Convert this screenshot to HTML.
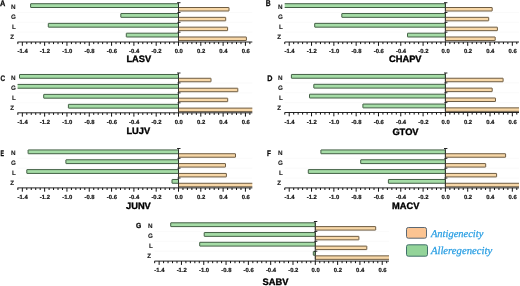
<!DOCTYPE html>
<html lang="en">
<head>
<meta charset="utf-8">
<title>Antigenicity and allergenicity of arenavirus proteins</title>
<style>
html,body{margin:0;padding:0;background:#ffffff;}
body{width:520px;height:286px;overflow:hidden;}
svg{display:block;will-change:transform;text-rendering:geometricPrecision;}
.lab{font-family:"Liberation Sans",sans-serif;font-weight:bold;font-size:6.3px;fill:#222;stroke:#222;stroke-width:0.12px;}
.tick{font-family:"Liberation Sans",sans-serif;font-weight:bold;font-size:5.9px;fill:#151515;stroke:#151515;stroke-width:0.2px;text-anchor:middle;}
.title{font-family:"Liberation Sans",sans-serif;font-weight:bold;font-size:9.3px;fill:#000;stroke:#000;stroke-width:0.35px;}
.letter{font-family:"Liberation Sans",sans-serif;font-weight:bold;font-size:8px;fill:#0a0a0a;stroke:#0a0a0a;stroke-width:0.28px;}
.leg{font-family:"Liberation Serif",serif;font-style:italic;font-size:10.5px;fill:#2b9fe3;stroke:#2b9fe3;stroke-width:0.25px;}
</style>
</head>
<body>
<svg width="520" height="286" viewBox="0 0 520 286">
<rect x="0" y="0" width="520" height="286" fill="#ffffff"/>

<g>
<line x1="17.5" y1="12.52" x2="252.3" y2="12.52" stroke="#f6f6f6" stroke-width="0.6"/>
<line x1="17.5" y1="22.35" x2="252.3" y2="22.35" stroke="#f6f6f6" stroke-width="0.6"/>
<line x1="17.5" y1="32.17" x2="252.3" y2="32.17" stroke="#f6f6f6" stroke-width="0.6"/>
<rect x="30.60" y="3.71" width="147.90" height="3.80" rx="0.25" fill="#a5dca6" stroke="#436045" stroke-width="1.0"/>
<rect x="178.50" y="7.51" width="50.50" height="3.50" rx="0.25" fill="#f7d7a7" stroke="#6e5c42" stroke-width="1.0"/>
<rect x="120.80" y="13.54" width="57.70" height="3.80" rx="0.25" fill="#a5dca6" stroke="#436045" stroke-width="1.0"/>
<rect x="178.50" y="17.34" width="47.20" height="3.50" rx="0.25" fill="#f7d7a7" stroke="#6e5c42" stroke-width="1.0"/>
<rect x="48.30" y="23.36" width="130.20" height="3.80" rx="0.25" fill="#a5dca6" stroke="#436045" stroke-width="1.0"/>
<rect x="178.50" y="27.16" width="49.10" height="3.50" rx="0.25" fill="#f7d7a7" stroke="#6e5c42" stroke-width="1.0"/>
<rect x="126.30" y="33.19" width="52.20" height="3.80" rx="0.25" fill="#a5dca6" stroke="#436045" stroke-width="1.0"/>
<rect x="178.50" y="36.99" width="67.90" height="3.50" rx="0.25" fill="#f7d7a7" stroke="#6e5c42" stroke-width="1.0"/>
<line x1="178.50" y1="2.70" x2="178.50" y2="42.00" stroke="#262626" stroke-width="0.8"/>
<line x1="177.10" y1="2.70" x2="180.50" y2="2.70" stroke="#1a1a1a" stroke-width="0.95"/>
<line x1="177.50" y1="12.52" x2="180.50" y2="12.52" stroke="#1a1a1a" stroke-width="0.95"/>
<line x1="177.50" y1="22.35" x2="180.50" y2="22.35" stroke="#1a1a1a" stroke-width="0.95"/>
<line x1="177.50" y1="32.17" x2="180.50" y2="32.17" stroke="#1a1a1a" stroke-width="0.95"/>
<line x1="17.50" y1="42.00" x2="252.30" y2="42.00" stroke="#1a1a1a" stroke-width="0.95"/>
<line x1="17.87" y1="42.00" x2="17.87" y2="44.10" stroke="#111" stroke-width="1.0"/>
<line x1="22.33" y1="42.00" x2="22.33" y2="45.80" stroke="#111" stroke-width="1.0"/>
<text class="tick" x="22.63" y="53.20">-1.4</text>
<line x1="26.79" y1="42.00" x2="26.79" y2="44.10" stroke="#111" stroke-width="1.0"/>
<line x1="31.25" y1="42.00" x2="31.25" y2="44.10" stroke="#111" stroke-width="1.0"/>
<line x1="35.72" y1="42.00" x2="35.72" y2="44.10" stroke="#111" stroke-width="1.0"/>
<line x1="40.18" y1="42.00" x2="40.18" y2="44.10" stroke="#111" stroke-width="1.0"/>
<line x1="44.64" y1="42.00" x2="44.64" y2="45.80" stroke="#111" stroke-width="1.0"/>
<text class="tick" x="44.94" y="53.20">-1.2</text>
<line x1="49.10" y1="42.00" x2="49.10" y2="44.10" stroke="#111" stroke-width="1.0"/>
<line x1="53.56" y1="42.00" x2="53.56" y2="44.10" stroke="#111" stroke-width="1.0"/>
<line x1="58.03" y1="42.00" x2="58.03" y2="44.10" stroke="#111" stroke-width="1.0"/>
<line x1="62.49" y1="42.00" x2="62.49" y2="44.10" stroke="#111" stroke-width="1.0"/>
<line x1="66.95" y1="42.00" x2="66.95" y2="45.80" stroke="#111" stroke-width="1.0"/>
<text class="tick" x="67.25" y="53.20">-1.0</text>
<line x1="71.41" y1="42.00" x2="71.41" y2="44.10" stroke="#111" stroke-width="1.0"/>
<line x1="75.87" y1="42.00" x2="75.87" y2="44.10" stroke="#111" stroke-width="1.0"/>
<line x1="80.34" y1="42.00" x2="80.34" y2="44.10" stroke="#111" stroke-width="1.0"/>
<line x1="84.80" y1="42.00" x2="84.80" y2="44.10" stroke="#111" stroke-width="1.0"/>
<line x1="89.26" y1="42.00" x2="89.26" y2="45.80" stroke="#111" stroke-width="1.0"/>
<text class="tick" x="89.56" y="53.20">-0.8</text>
<line x1="93.72" y1="42.00" x2="93.72" y2="44.10" stroke="#111" stroke-width="1.0"/>
<line x1="98.18" y1="42.00" x2="98.18" y2="44.10" stroke="#111" stroke-width="1.0"/>
<line x1="102.65" y1="42.00" x2="102.65" y2="44.10" stroke="#111" stroke-width="1.0"/>
<line x1="107.11" y1="42.00" x2="107.11" y2="44.10" stroke="#111" stroke-width="1.0"/>
<line x1="111.57" y1="42.00" x2="111.57" y2="45.80" stroke="#111" stroke-width="1.0"/>
<text class="tick" x="111.87" y="53.20">-0.6</text>
<line x1="116.03" y1="42.00" x2="116.03" y2="44.10" stroke="#111" stroke-width="1.0"/>
<line x1="120.49" y1="42.00" x2="120.49" y2="44.10" stroke="#111" stroke-width="1.0"/>
<line x1="124.96" y1="42.00" x2="124.96" y2="44.10" stroke="#111" stroke-width="1.0"/>
<line x1="129.42" y1="42.00" x2="129.42" y2="44.10" stroke="#111" stroke-width="1.0"/>
<line x1="133.88" y1="42.00" x2="133.88" y2="45.80" stroke="#111" stroke-width="1.0"/>
<text class="tick" x="134.18" y="53.20">-0.4</text>
<line x1="138.34" y1="42.00" x2="138.34" y2="44.10" stroke="#111" stroke-width="1.0"/>
<line x1="142.80" y1="42.00" x2="142.80" y2="44.10" stroke="#111" stroke-width="1.0"/>
<line x1="147.27" y1="42.00" x2="147.27" y2="44.10" stroke="#111" stroke-width="1.0"/>
<line x1="151.73" y1="42.00" x2="151.73" y2="44.10" stroke="#111" stroke-width="1.0"/>
<line x1="156.19" y1="42.00" x2="156.19" y2="45.80" stroke="#111" stroke-width="1.0"/>
<text class="tick" x="156.49" y="53.20">-0.2</text>
<line x1="160.65" y1="42.00" x2="160.65" y2="44.10" stroke="#111" stroke-width="1.0"/>
<line x1="165.11" y1="42.00" x2="165.11" y2="44.10" stroke="#111" stroke-width="1.0"/>
<line x1="169.58" y1="42.00" x2="169.58" y2="44.10" stroke="#111" stroke-width="1.0"/>
<line x1="174.04" y1="42.00" x2="174.04" y2="44.10" stroke="#111" stroke-width="1.0"/>
<line x1="178.50" y1="42.00" x2="178.50" y2="45.80" stroke="#111" stroke-width="1.0"/>
<text class="tick" x="178.80" y="53.20">0.0</text>
<line x1="182.96" y1="42.00" x2="182.96" y2="44.10" stroke="#111" stroke-width="1.0"/>
<line x1="187.42" y1="42.00" x2="187.42" y2="44.10" stroke="#111" stroke-width="1.0"/>
<line x1="191.89" y1="42.00" x2="191.89" y2="44.10" stroke="#111" stroke-width="1.0"/>
<line x1="196.35" y1="42.00" x2="196.35" y2="44.10" stroke="#111" stroke-width="1.0"/>
<line x1="200.81" y1="42.00" x2="200.81" y2="45.80" stroke="#111" stroke-width="1.0"/>
<text class="tick" x="201.11" y="53.20">0.2</text>
<line x1="205.27" y1="42.00" x2="205.27" y2="44.10" stroke="#111" stroke-width="1.0"/>
<line x1="209.73" y1="42.00" x2="209.73" y2="44.10" stroke="#111" stroke-width="1.0"/>
<line x1="214.20" y1="42.00" x2="214.20" y2="44.10" stroke="#111" stroke-width="1.0"/>
<line x1="218.66" y1="42.00" x2="218.66" y2="44.10" stroke="#111" stroke-width="1.0"/>
<line x1="223.12" y1="42.00" x2="223.12" y2="45.80" stroke="#111" stroke-width="1.0"/>
<text class="tick" x="223.42" y="53.20">0.4</text>
<line x1="227.58" y1="42.00" x2="227.58" y2="44.10" stroke="#111" stroke-width="1.0"/>
<line x1="232.04" y1="42.00" x2="232.04" y2="44.10" stroke="#111" stroke-width="1.0"/>
<line x1="236.51" y1="42.00" x2="236.51" y2="44.10" stroke="#111" stroke-width="1.0"/>
<line x1="240.97" y1="42.00" x2="240.97" y2="44.10" stroke="#111" stroke-width="1.0"/>
<line x1="245.43" y1="42.00" x2="245.43" y2="45.80" stroke="#111" stroke-width="1.0"/>
<text class="tick" x="245.73" y="53.20">0.6</text>
<line x1="249.89" y1="42.00" x2="249.89" y2="44.10" stroke="#111" stroke-width="1.0"/>
<text class="lab" x="11.00" y="9.40">N</text>
<text class="lab" x="11.00" y="19.20">G</text>
<text class="lab" x="12.00" y="29.30">L</text>
<text class="lab" x="10.30" y="39.00">Z</text>
<text class="letter" style="font-size:8px" x="0.10" y="5.70" textLength="5.3" lengthAdjust="spacingAndGlyphs">A</text>
<text class="title" x="126.40" y="62.30">LASV</text>
</g>
<g>
<line x1="284.7" y1="12.52" x2="519.0" y2="12.52" stroke="#f6f6f6" stroke-width="0.6"/>
<line x1="284.7" y1="22.35" x2="519.0" y2="22.35" stroke="#f6f6f6" stroke-width="0.6"/>
<line x1="284.7" y1="32.17" x2="519.0" y2="32.17" stroke="#f6f6f6" stroke-width="0.6"/>
<path d="M284.70 3.71H445.40V7.51H284.70" fill="#a5dca6" stroke="#436045" stroke-width="1.0"/>
<rect x="445.40" y="7.51" width="46.80" height="3.50" rx="0.25" fill="#f7d7a7" stroke="#6e5c42" stroke-width="1.0"/>
<rect x="341.80" y="13.54" width="103.60" height="3.80" rx="0.25" fill="#a5dca6" stroke="#436045" stroke-width="1.0"/>
<rect x="445.40" y="17.34" width="43.30" height="3.50" rx="0.25" fill="#f7d7a7" stroke="#6e5c42" stroke-width="1.0"/>
<rect x="314.70" y="23.36" width="130.70" height="3.80" rx="0.25" fill="#a5dca6" stroke="#436045" stroke-width="1.0"/>
<rect x="445.40" y="27.16" width="52.00" height="3.50" rx="0.25" fill="#f7d7a7" stroke="#6e5c42" stroke-width="1.0"/>
<rect x="407.50" y="33.19" width="37.90" height="3.80" rx="0.25" fill="#a5dca6" stroke="#436045" stroke-width="1.0"/>
<rect x="445.40" y="36.99" width="49.80" height="3.50" rx="0.25" fill="#f7d7a7" stroke="#6e5c42" stroke-width="1.0"/>
<line x1="445.40" y1="2.70" x2="445.40" y2="42.00" stroke="#262626" stroke-width="0.8"/>
<line x1="444.00" y1="2.70" x2="447.40" y2="2.70" stroke="#1a1a1a" stroke-width="0.95"/>
<line x1="444.40" y1="12.52" x2="447.40" y2="12.52" stroke="#1a1a1a" stroke-width="0.95"/>
<line x1="444.40" y1="22.35" x2="447.40" y2="22.35" stroke="#1a1a1a" stroke-width="0.95"/>
<line x1="444.40" y1="32.17" x2="447.40" y2="32.17" stroke="#1a1a1a" stroke-width="0.95"/>
<line x1="284.70" y1="42.00" x2="519.00" y2="42.00" stroke="#1a1a1a" stroke-width="0.95"/>
<line x1="284.77" y1="42.00" x2="284.77" y2="44.10" stroke="#111" stroke-width="1.0"/>
<line x1="289.23" y1="42.00" x2="289.23" y2="45.80" stroke="#111" stroke-width="1.0"/>
<text class="tick" x="289.53" y="53.20">-1.4</text>
<line x1="293.69" y1="42.00" x2="293.69" y2="44.10" stroke="#111" stroke-width="1.0"/>
<line x1="298.15" y1="42.00" x2="298.15" y2="44.10" stroke="#111" stroke-width="1.0"/>
<line x1="302.62" y1="42.00" x2="302.62" y2="44.10" stroke="#111" stroke-width="1.0"/>
<line x1="307.08" y1="42.00" x2="307.08" y2="44.10" stroke="#111" stroke-width="1.0"/>
<line x1="311.54" y1="42.00" x2="311.54" y2="45.80" stroke="#111" stroke-width="1.0"/>
<text class="tick" x="311.84" y="53.20">-1.2</text>
<line x1="316.00" y1="42.00" x2="316.00" y2="44.10" stroke="#111" stroke-width="1.0"/>
<line x1="320.46" y1="42.00" x2="320.46" y2="44.10" stroke="#111" stroke-width="1.0"/>
<line x1="324.93" y1="42.00" x2="324.93" y2="44.10" stroke="#111" stroke-width="1.0"/>
<line x1="329.39" y1="42.00" x2="329.39" y2="44.10" stroke="#111" stroke-width="1.0"/>
<line x1="333.85" y1="42.00" x2="333.85" y2="45.80" stroke="#111" stroke-width="1.0"/>
<text class="tick" x="334.15" y="53.20">-1.0</text>
<line x1="338.31" y1="42.00" x2="338.31" y2="44.10" stroke="#111" stroke-width="1.0"/>
<line x1="342.77" y1="42.00" x2="342.77" y2="44.10" stroke="#111" stroke-width="1.0"/>
<line x1="347.24" y1="42.00" x2="347.24" y2="44.10" stroke="#111" stroke-width="1.0"/>
<line x1="351.70" y1="42.00" x2="351.70" y2="44.10" stroke="#111" stroke-width="1.0"/>
<line x1="356.16" y1="42.00" x2="356.16" y2="45.80" stroke="#111" stroke-width="1.0"/>
<text class="tick" x="356.46" y="53.20">-0.8</text>
<line x1="360.62" y1="42.00" x2="360.62" y2="44.10" stroke="#111" stroke-width="1.0"/>
<line x1="365.08" y1="42.00" x2="365.08" y2="44.10" stroke="#111" stroke-width="1.0"/>
<line x1="369.55" y1="42.00" x2="369.55" y2="44.10" stroke="#111" stroke-width="1.0"/>
<line x1="374.01" y1="42.00" x2="374.01" y2="44.10" stroke="#111" stroke-width="1.0"/>
<line x1="378.47" y1="42.00" x2="378.47" y2="45.80" stroke="#111" stroke-width="1.0"/>
<text class="tick" x="378.77" y="53.20">-0.6</text>
<line x1="382.93" y1="42.00" x2="382.93" y2="44.10" stroke="#111" stroke-width="1.0"/>
<line x1="387.39" y1="42.00" x2="387.39" y2="44.10" stroke="#111" stroke-width="1.0"/>
<line x1="391.86" y1="42.00" x2="391.86" y2="44.10" stroke="#111" stroke-width="1.0"/>
<line x1="396.32" y1="42.00" x2="396.32" y2="44.10" stroke="#111" stroke-width="1.0"/>
<line x1="400.78" y1="42.00" x2="400.78" y2="45.80" stroke="#111" stroke-width="1.0"/>
<text class="tick" x="401.08" y="53.20">-0.4</text>
<line x1="405.24" y1="42.00" x2="405.24" y2="44.10" stroke="#111" stroke-width="1.0"/>
<line x1="409.70" y1="42.00" x2="409.70" y2="44.10" stroke="#111" stroke-width="1.0"/>
<line x1="414.17" y1="42.00" x2="414.17" y2="44.10" stroke="#111" stroke-width="1.0"/>
<line x1="418.63" y1="42.00" x2="418.63" y2="44.10" stroke="#111" stroke-width="1.0"/>
<line x1="423.09" y1="42.00" x2="423.09" y2="45.80" stroke="#111" stroke-width="1.0"/>
<text class="tick" x="423.39" y="53.20">-0.2</text>
<line x1="427.55" y1="42.00" x2="427.55" y2="44.10" stroke="#111" stroke-width="1.0"/>
<line x1="432.01" y1="42.00" x2="432.01" y2="44.10" stroke="#111" stroke-width="1.0"/>
<line x1="436.48" y1="42.00" x2="436.48" y2="44.10" stroke="#111" stroke-width="1.0"/>
<line x1="440.94" y1="42.00" x2="440.94" y2="44.10" stroke="#111" stroke-width="1.0"/>
<line x1="445.40" y1="42.00" x2="445.40" y2="45.80" stroke="#111" stroke-width="1.0"/>
<text class="tick" x="445.70" y="53.20">0.0</text>
<line x1="449.86" y1="42.00" x2="449.86" y2="44.10" stroke="#111" stroke-width="1.0"/>
<line x1="454.32" y1="42.00" x2="454.32" y2="44.10" stroke="#111" stroke-width="1.0"/>
<line x1="458.79" y1="42.00" x2="458.79" y2="44.10" stroke="#111" stroke-width="1.0"/>
<line x1="463.25" y1="42.00" x2="463.25" y2="44.10" stroke="#111" stroke-width="1.0"/>
<line x1="467.71" y1="42.00" x2="467.71" y2="45.80" stroke="#111" stroke-width="1.0"/>
<text class="tick" x="468.01" y="53.20">0.2</text>
<line x1="472.17" y1="42.00" x2="472.17" y2="44.10" stroke="#111" stroke-width="1.0"/>
<line x1="476.63" y1="42.00" x2="476.63" y2="44.10" stroke="#111" stroke-width="1.0"/>
<line x1="481.10" y1="42.00" x2="481.10" y2="44.10" stroke="#111" stroke-width="1.0"/>
<line x1="485.56" y1="42.00" x2="485.56" y2="44.10" stroke="#111" stroke-width="1.0"/>
<line x1="490.02" y1="42.00" x2="490.02" y2="45.80" stroke="#111" stroke-width="1.0"/>
<text class="tick" x="490.32" y="53.20">0.4</text>
<line x1="494.48" y1="42.00" x2="494.48" y2="44.10" stroke="#111" stroke-width="1.0"/>
<line x1="498.94" y1="42.00" x2="498.94" y2="44.10" stroke="#111" stroke-width="1.0"/>
<line x1="503.41" y1="42.00" x2="503.41" y2="44.10" stroke="#111" stroke-width="1.0"/>
<line x1="507.87" y1="42.00" x2="507.87" y2="44.10" stroke="#111" stroke-width="1.0"/>
<line x1="512.33" y1="42.00" x2="512.33" y2="45.80" stroke="#111" stroke-width="1.0"/>
<text class="tick" x="512.63" y="53.20">0.6</text>
<line x1="516.79" y1="42.00" x2="516.79" y2="44.10" stroke="#111" stroke-width="1.0"/>
<text class="lab" x="278.00" y="9.40">N</text>
<text class="lab" x="278.00" y="19.20">G</text>
<text class="lab" x="279.00" y="29.30">L</text>
<text class="lab" x="277.30" y="39.00">Z</text>
<text class="letter" style="font-size:8.5px" x="265.80" y="5.60" textLength="4.9" lengthAdjust="spacingAndGlyphs">B</text>
<text class="title" x="389.00" y="62.30">CHAPV</text>
</g>
<g>
<line x1="17.5" y1="82.95" x2="252.3" y2="82.95" stroke="#f6f6f6" stroke-width="0.6"/>
<line x1="17.5" y1="92.90" x2="252.3" y2="92.90" stroke="#f6f6f6" stroke-width="0.6"/>
<line x1="17.5" y1="102.85" x2="252.3" y2="102.85" stroke="#f6f6f6" stroke-width="0.6"/>
<rect x="19.50" y="74.48" width="159.00" height="3.80" rx="0.25" fill="#a5dca6" stroke="#436045" stroke-width="1.0"/>
<rect x="178.50" y="78.28" width="32.50" height="3.50" rx="0.25" fill="#f7d7a7" stroke="#6e5c42" stroke-width="1.0"/>
<path d="M17.60 84.43H178.50V88.23H17.60" fill="#a5dca6" stroke="#436045" stroke-width="1.0"/>
<rect x="178.50" y="88.23" width="59.30" height="3.50" rx="0.25" fill="#f7d7a7" stroke="#6e5c42" stroke-width="1.0"/>
<rect x="43.70" y="94.38" width="134.80" height="3.80" rx="0.25" fill="#a5dca6" stroke="#436045" stroke-width="1.0"/>
<rect x="178.50" y="98.18" width="49.20" height="3.50" rx="0.25" fill="#f7d7a7" stroke="#6e5c42" stroke-width="1.0"/>
<rect x="68.40" y="104.33" width="110.10" height="3.80" rx="0.25" fill="#a5dca6" stroke="#436045" stroke-width="1.0"/>
<path d="M252.30 108.12H178.50V111.62H252.30" fill="#f7d7a7" stroke="#6e5c42" stroke-width="1.0"/>
<line x1="178.50" y1="73.00" x2="178.50" y2="112.80" stroke="#262626" stroke-width="0.8"/>
<line x1="177.10" y1="73.00" x2="180.50" y2="73.00" stroke="#1a1a1a" stroke-width="0.95"/>
<line x1="177.50" y1="82.95" x2="180.50" y2="82.95" stroke="#1a1a1a" stroke-width="0.95"/>
<line x1="177.50" y1="92.90" x2="180.50" y2="92.90" stroke="#1a1a1a" stroke-width="0.95"/>
<line x1="177.50" y1="102.85" x2="180.50" y2="102.85" stroke="#1a1a1a" stroke-width="0.95"/>
<line x1="17.50" y1="112.80" x2="252.30" y2="112.80" stroke="#1a1a1a" stroke-width="0.95"/>
<line x1="17.87" y1="112.80" x2="17.87" y2="114.90" stroke="#111" stroke-width="1.0"/>
<line x1="22.33" y1="112.80" x2="22.33" y2="116.60" stroke="#111" stroke-width="1.0"/>
<text class="tick" x="22.63" y="124.00">-1.4</text>
<line x1="26.79" y1="112.80" x2="26.79" y2="114.90" stroke="#111" stroke-width="1.0"/>
<line x1="31.25" y1="112.80" x2="31.25" y2="114.90" stroke="#111" stroke-width="1.0"/>
<line x1="35.72" y1="112.80" x2="35.72" y2="114.90" stroke="#111" stroke-width="1.0"/>
<line x1="40.18" y1="112.80" x2="40.18" y2="114.90" stroke="#111" stroke-width="1.0"/>
<line x1="44.64" y1="112.80" x2="44.64" y2="116.60" stroke="#111" stroke-width="1.0"/>
<text class="tick" x="44.94" y="124.00">-1.2</text>
<line x1="49.10" y1="112.80" x2="49.10" y2="114.90" stroke="#111" stroke-width="1.0"/>
<line x1="53.56" y1="112.80" x2="53.56" y2="114.90" stroke="#111" stroke-width="1.0"/>
<line x1="58.03" y1="112.80" x2="58.03" y2="114.90" stroke="#111" stroke-width="1.0"/>
<line x1="62.49" y1="112.80" x2="62.49" y2="114.90" stroke="#111" stroke-width="1.0"/>
<line x1="66.95" y1="112.80" x2="66.95" y2="116.60" stroke="#111" stroke-width="1.0"/>
<text class="tick" x="67.25" y="124.00">-1.0</text>
<line x1="71.41" y1="112.80" x2="71.41" y2="114.90" stroke="#111" stroke-width="1.0"/>
<line x1="75.87" y1="112.80" x2="75.87" y2="114.90" stroke="#111" stroke-width="1.0"/>
<line x1="80.34" y1="112.80" x2="80.34" y2="114.90" stroke="#111" stroke-width="1.0"/>
<line x1="84.80" y1="112.80" x2="84.80" y2="114.90" stroke="#111" stroke-width="1.0"/>
<line x1="89.26" y1="112.80" x2="89.26" y2="116.60" stroke="#111" stroke-width="1.0"/>
<text class="tick" x="89.56" y="124.00">-0.8</text>
<line x1="93.72" y1="112.80" x2="93.72" y2="114.90" stroke="#111" stroke-width="1.0"/>
<line x1="98.18" y1="112.80" x2="98.18" y2="114.90" stroke="#111" stroke-width="1.0"/>
<line x1="102.65" y1="112.80" x2="102.65" y2="114.90" stroke="#111" stroke-width="1.0"/>
<line x1="107.11" y1="112.80" x2="107.11" y2="114.90" stroke="#111" stroke-width="1.0"/>
<line x1="111.57" y1="112.80" x2="111.57" y2="116.60" stroke="#111" stroke-width="1.0"/>
<text class="tick" x="111.87" y="124.00">-0.6</text>
<line x1="116.03" y1="112.80" x2="116.03" y2="114.90" stroke="#111" stroke-width="1.0"/>
<line x1="120.49" y1="112.80" x2="120.49" y2="114.90" stroke="#111" stroke-width="1.0"/>
<line x1="124.96" y1="112.80" x2="124.96" y2="114.90" stroke="#111" stroke-width="1.0"/>
<line x1="129.42" y1="112.80" x2="129.42" y2="114.90" stroke="#111" stroke-width="1.0"/>
<line x1="133.88" y1="112.80" x2="133.88" y2="116.60" stroke="#111" stroke-width="1.0"/>
<text class="tick" x="134.18" y="124.00">-0.4</text>
<line x1="138.34" y1="112.80" x2="138.34" y2="114.90" stroke="#111" stroke-width="1.0"/>
<line x1="142.80" y1="112.80" x2="142.80" y2="114.90" stroke="#111" stroke-width="1.0"/>
<line x1="147.27" y1="112.80" x2="147.27" y2="114.90" stroke="#111" stroke-width="1.0"/>
<line x1="151.73" y1="112.80" x2="151.73" y2="114.90" stroke="#111" stroke-width="1.0"/>
<line x1="156.19" y1="112.80" x2="156.19" y2="116.60" stroke="#111" stroke-width="1.0"/>
<text class="tick" x="156.49" y="124.00">-0.2</text>
<line x1="160.65" y1="112.80" x2="160.65" y2="114.90" stroke="#111" stroke-width="1.0"/>
<line x1="165.11" y1="112.80" x2="165.11" y2="114.90" stroke="#111" stroke-width="1.0"/>
<line x1="169.58" y1="112.80" x2="169.58" y2="114.90" stroke="#111" stroke-width="1.0"/>
<line x1="174.04" y1="112.80" x2="174.04" y2="114.90" stroke="#111" stroke-width="1.0"/>
<line x1="178.50" y1="112.80" x2="178.50" y2="116.60" stroke="#111" stroke-width="1.0"/>
<text class="tick" x="178.80" y="124.00">0.0</text>
<line x1="182.96" y1="112.80" x2="182.96" y2="114.90" stroke="#111" stroke-width="1.0"/>
<line x1="187.42" y1="112.80" x2="187.42" y2="114.90" stroke="#111" stroke-width="1.0"/>
<line x1="191.89" y1="112.80" x2="191.89" y2="114.90" stroke="#111" stroke-width="1.0"/>
<line x1="196.35" y1="112.80" x2="196.35" y2="114.90" stroke="#111" stroke-width="1.0"/>
<line x1="200.81" y1="112.80" x2="200.81" y2="116.60" stroke="#111" stroke-width="1.0"/>
<text class="tick" x="201.11" y="124.00">0.2</text>
<line x1="205.27" y1="112.80" x2="205.27" y2="114.90" stroke="#111" stroke-width="1.0"/>
<line x1="209.73" y1="112.80" x2="209.73" y2="114.90" stroke="#111" stroke-width="1.0"/>
<line x1="214.20" y1="112.80" x2="214.20" y2="114.90" stroke="#111" stroke-width="1.0"/>
<line x1="218.66" y1="112.80" x2="218.66" y2="114.90" stroke="#111" stroke-width="1.0"/>
<line x1="223.12" y1="112.80" x2="223.12" y2="116.60" stroke="#111" stroke-width="1.0"/>
<text class="tick" x="223.42" y="124.00">0.4</text>
<line x1="227.58" y1="112.80" x2="227.58" y2="114.90" stroke="#111" stroke-width="1.0"/>
<line x1="232.04" y1="112.80" x2="232.04" y2="114.90" stroke="#111" stroke-width="1.0"/>
<line x1="236.51" y1="112.80" x2="236.51" y2="114.90" stroke="#111" stroke-width="1.0"/>
<line x1="240.97" y1="112.80" x2="240.97" y2="114.90" stroke="#111" stroke-width="1.0"/>
<line x1="245.43" y1="112.80" x2="245.43" y2="116.60" stroke="#111" stroke-width="1.0"/>
<text class="tick" x="245.73" y="124.00">0.6</text>
<line x1="249.89" y1="112.80" x2="249.89" y2="114.90" stroke="#111" stroke-width="1.0"/>
<text class="lab" x="11.00" y="80.00">N</text>
<text class="lab" x="11.00" y="90.00">G</text>
<text class="lab" x="12.00" y="99.80">L</text>
<text class="lab" x="10.30" y="109.60">Z</text>
<text class="letter" style="font-size:8px" x="0.40" y="80.70" textLength="4.6" lengthAdjust="spacingAndGlyphs">C</text>
<text class="title" x="126.40" y="134.10">LUJV</text>
</g>
<g>
<line x1="284.7" y1="82.88" x2="519.0" y2="82.88" stroke="#f6f6f6" stroke-width="0.6"/>
<line x1="284.7" y1="92.75" x2="519.0" y2="92.75" stroke="#f6f6f6" stroke-width="0.6"/>
<line x1="284.7" y1="102.62" x2="519.0" y2="102.62" stroke="#f6f6f6" stroke-width="0.6"/>
<rect x="291.40" y="74.44" width="154.00" height="3.80" rx="0.25" fill="#a5dca6" stroke="#436045" stroke-width="1.0"/>
<rect x="445.40" y="78.24" width="57.70" height="3.50" rx="0.25" fill="#f7d7a7" stroke="#6e5c42" stroke-width="1.0"/>
<rect x="313.80" y="84.31" width="131.60" height="3.80" rx="0.25" fill="#a5dca6" stroke="#436045" stroke-width="1.0"/>
<rect x="445.40" y="88.11" width="46.80" height="3.50" rx="0.25" fill="#f7d7a7" stroke="#6e5c42" stroke-width="1.0"/>
<rect x="309.50" y="94.19" width="135.90" height="3.80" rx="0.25" fill="#a5dca6" stroke="#436045" stroke-width="1.0"/>
<rect x="445.40" y="97.99" width="50.10" height="3.50" rx="0.25" fill="#f7d7a7" stroke="#6e5c42" stroke-width="1.0"/>
<rect x="362.90" y="104.06" width="82.50" height="3.80" rx="0.25" fill="#a5dca6" stroke="#436045" stroke-width="1.0"/>
<path d="M519.00 107.86H445.40V111.36H519.00" fill="#f7d7a7" stroke="#6e5c42" stroke-width="1.0"/>
<line x1="445.40" y1="73.00" x2="445.40" y2="112.50" stroke="#262626" stroke-width="0.8"/>
<line x1="444.00" y1="73.00" x2="447.40" y2="73.00" stroke="#1a1a1a" stroke-width="0.95"/>
<line x1="444.40" y1="82.88" x2="447.40" y2="82.88" stroke="#1a1a1a" stroke-width="0.95"/>
<line x1="444.40" y1="92.75" x2="447.40" y2="92.75" stroke="#1a1a1a" stroke-width="0.95"/>
<line x1="444.40" y1="102.62" x2="447.40" y2="102.62" stroke="#1a1a1a" stroke-width="0.95"/>
<line x1="284.70" y1="112.50" x2="519.00" y2="112.50" stroke="#1a1a1a" stroke-width="0.95"/>
<line x1="284.77" y1="112.50" x2="284.77" y2="114.60" stroke="#111" stroke-width="1.0"/>
<line x1="289.23" y1="112.50" x2="289.23" y2="116.30" stroke="#111" stroke-width="1.0"/>
<text class="tick" x="289.53" y="123.70">-1.4</text>
<line x1="293.69" y1="112.50" x2="293.69" y2="114.60" stroke="#111" stroke-width="1.0"/>
<line x1="298.15" y1="112.50" x2="298.15" y2="114.60" stroke="#111" stroke-width="1.0"/>
<line x1="302.62" y1="112.50" x2="302.62" y2="114.60" stroke="#111" stroke-width="1.0"/>
<line x1="307.08" y1="112.50" x2="307.08" y2="114.60" stroke="#111" stroke-width="1.0"/>
<line x1="311.54" y1="112.50" x2="311.54" y2="116.30" stroke="#111" stroke-width="1.0"/>
<text class="tick" x="311.84" y="123.70">-1.2</text>
<line x1="316.00" y1="112.50" x2="316.00" y2="114.60" stroke="#111" stroke-width="1.0"/>
<line x1="320.46" y1="112.50" x2="320.46" y2="114.60" stroke="#111" stroke-width="1.0"/>
<line x1="324.93" y1="112.50" x2="324.93" y2="114.60" stroke="#111" stroke-width="1.0"/>
<line x1="329.39" y1="112.50" x2="329.39" y2="114.60" stroke="#111" stroke-width="1.0"/>
<line x1="333.85" y1="112.50" x2="333.85" y2="116.30" stroke="#111" stroke-width="1.0"/>
<text class="tick" x="334.15" y="123.70">-1.0</text>
<line x1="338.31" y1="112.50" x2="338.31" y2="114.60" stroke="#111" stroke-width="1.0"/>
<line x1="342.77" y1="112.50" x2="342.77" y2="114.60" stroke="#111" stroke-width="1.0"/>
<line x1="347.24" y1="112.50" x2="347.24" y2="114.60" stroke="#111" stroke-width="1.0"/>
<line x1="351.70" y1="112.50" x2="351.70" y2="114.60" stroke="#111" stroke-width="1.0"/>
<line x1="356.16" y1="112.50" x2="356.16" y2="116.30" stroke="#111" stroke-width="1.0"/>
<text class="tick" x="356.46" y="123.70">-0.8</text>
<line x1="360.62" y1="112.50" x2="360.62" y2="114.60" stroke="#111" stroke-width="1.0"/>
<line x1="365.08" y1="112.50" x2="365.08" y2="114.60" stroke="#111" stroke-width="1.0"/>
<line x1="369.55" y1="112.50" x2="369.55" y2="114.60" stroke="#111" stroke-width="1.0"/>
<line x1="374.01" y1="112.50" x2="374.01" y2="114.60" stroke="#111" stroke-width="1.0"/>
<line x1="378.47" y1="112.50" x2="378.47" y2="116.30" stroke="#111" stroke-width="1.0"/>
<text class="tick" x="378.77" y="123.70">-0.6</text>
<line x1="382.93" y1="112.50" x2="382.93" y2="114.60" stroke="#111" stroke-width="1.0"/>
<line x1="387.39" y1="112.50" x2="387.39" y2="114.60" stroke="#111" stroke-width="1.0"/>
<line x1="391.86" y1="112.50" x2="391.86" y2="114.60" stroke="#111" stroke-width="1.0"/>
<line x1="396.32" y1="112.50" x2="396.32" y2="114.60" stroke="#111" stroke-width="1.0"/>
<line x1="400.78" y1="112.50" x2="400.78" y2="116.30" stroke="#111" stroke-width="1.0"/>
<text class="tick" x="401.08" y="123.70">-0.4</text>
<line x1="405.24" y1="112.50" x2="405.24" y2="114.60" stroke="#111" stroke-width="1.0"/>
<line x1="409.70" y1="112.50" x2="409.70" y2="114.60" stroke="#111" stroke-width="1.0"/>
<line x1="414.17" y1="112.50" x2="414.17" y2="114.60" stroke="#111" stroke-width="1.0"/>
<line x1="418.63" y1="112.50" x2="418.63" y2="114.60" stroke="#111" stroke-width="1.0"/>
<line x1="423.09" y1="112.50" x2="423.09" y2="116.30" stroke="#111" stroke-width="1.0"/>
<text class="tick" x="423.39" y="123.70">-0.2</text>
<line x1="427.55" y1="112.50" x2="427.55" y2="114.60" stroke="#111" stroke-width="1.0"/>
<line x1="432.01" y1="112.50" x2="432.01" y2="114.60" stroke="#111" stroke-width="1.0"/>
<line x1="436.48" y1="112.50" x2="436.48" y2="114.60" stroke="#111" stroke-width="1.0"/>
<line x1="440.94" y1="112.50" x2="440.94" y2="114.60" stroke="#111" stroke-width="1.0"/>
<line x1="445.40" y1="112.50" x2="445.40" y2="116.30" stroke="#111" stroke-width="1.0"/>
<text class="tick" x="445.70" y="123.70">0.0</text>
<line x1="449.86" y1="112.50" x2="449.86" y2="114.60" stroke="#111" stroke-width="1.0"/>
<line x1="454.32" y1="112.50" x2="454.32" y2="114.60" stroke="#111" stroke-width="1.0"/>
<line x1="458.79" y1="112.50" x2="458.79" y2="114.60" stroke="#111" stroke-width="1.0"/>
<line x1="463.25" y1="112.50" x2="463.25" y2="114.60" stroke="#111" stroke-width="1.0"/>
<line x1="467.71" y1="112.50" x2="467.71" y2="116.30" stroke="#111" stroke-width="1.0"/>
<text class="tick" x="468.01" y="123.70">0.2</text>
<line x1="472.17" y1="112.50" x2="472.17" y2="114.60" stroke="#111" stroke-width="1.0"/>
<line x1="476.63" y1="112.50" x2="476.63" y2="114.60" stroke="#111" stroke-width="1.0"/>
<line x1="481.10" y1="112.50" x2="481.10" y2="114.60" stroke="#111" stroke-width="1.0"/>
<line x1="485.56" y1="112.50" x2="485.56" y2="114.60" stroke="#111" stroke-width="1.0"/>
<line x1="490.02" y1="112.50" x2="490.02" y2="116.30" stroke="#111" stroke-width="1.0"/>
<text class="tick" x="490.32" y="123.70">0.4</text>
<line x1="494.48" y1="112.50" x2="494.48" y2="114.60" stroke="#111" stroke-width="1.0"/>
<line x1="498.94" y1="112.50" x2="498.94" y2="114.60" stroke="#111" stroke-width="1.0"/>
<line x1="503.41" y1="112.50" x2="503.41" y2="114.60" stroke="#111" stroke-width="1.0"/>
<line x1="507.87" y1="112.50" x2="507.87" y2="114.60" stroke="#111" stroke-width="1.0"/>
<line x1="512.33" y1="112.50" x2="512.33" y2="116.30" stroke="#111" stroke-width="1.0"/>
<text class="tick" x="512.63" y="123.70">0.6</text>
<line x1="516.79" y1="112.50" x2="516.79" y2="114.60" stroke="#111" stroke-width="1.0"/>
<text class="lab" x="278.00" y="80.00">N</text>
<text class="lab" x="278.00" y="90.00">G</text>
<text class="lab" x="279.00" y="99.80">L</text>
<text class="lab" x="277.30" y="109.60">Z</text>
<text class="letter" style="font-size:8px" x="267.20" y="80.70" textLength="5.2" lengthAdjust="spacingAndGlyphs">D</text>
<text class="title" x="392.40" y="134.60">GTOV</text>
</g>
<g>
<line x1="17.5" y1="158.35" x2="252.3" y2="158.35" stroke="#f6f6f6" stroke-width="0.6"/>
<line x1="17.5" y1="168.20" x2="252.3" y2="168.20" stroke="#f6f6f6" stroke-width="0.6"/>
<line x1="17.5" y1="178.05" x2="252.3" y2="178.05" stroke="#f6f6f6" stroke-width="0.6"/>
<rect x="28.10" y="149.93" width="150.40" height="3.80" rx="0.25" fill="#a5dca6" stroke="#436045" stroke-width="1.0"/>
<rect x="178.50" y="153.73" width="57.00" height="3.50" rx="0.25" fill="#f7d7a7" stroke="#6e5c42" stroke-width="1.0"/>
<rect x="65.90" y="159.78" width="112.60" height="3.80" rx="0.25" fill="#a5dca6" stroke="#436045" stroke-width="1.0"/>
<rect x="178.50" y="163.58" width="47.00" height="3.50" rx="0.25" fill="#f7d7a7" stroke="#6e5c42" stroke-width="1.0"/>
<rect x="26.80" y="169.62" width="151.70" height="3.80" rx="0.25" fill="#a5dca6" stroke="#436045" stroke-width="1.0"/>
<rect x="178.50" y="173.43" width="47.90" height="3.50" rx="0.25" fill="#f7d7a7" stroke="#6e5c42" stroke-width="1.0"/>
<rect x="172.00" y="179.48" width="6.50" height="3.80" rx="0.25" fill="#a5dca6" stroke="#436045" stroke-width="1.0"/>
<path d="M252.30 183.28H178.50V186.78H252.30" fill="#f7d7a7" stroke="#6e5c42" stroke-width="1.0"/>
<line x1="178.50" y1="148.50" x2="178.50" y2="187.90" stroke="#262626" stroke-width="0.8"/>
<line x1="177.10" y1="148.50" x2="180.50" y2="148.50" stroke="#1a1a1a" stroke-width="0.95"/>
<line x1="177.50" y1="158.35" x2="180.50" y2="158.35" stroke="#1a1a1a" stroke-width="0.95"/>
<line x1="177.50" y1="168.20" x2="180.50" y2="168.20" stroke="#1a1a1a" stroke-width="0.95"/>
<line x1="177.50" y1="178.05" x2="180.50" y2="178.05" stroke="#1a1a1a" stroke-width="0.95"/>
<line x1="17.50" y1="187.90" x2="252.30" y2="187.90" stroke="#1a1a1a" stroke-width="0.95"/>
<line x1="17.87" y1="187.90" x2="17.87" y2="190.00" stroke="#111" stroke-width="1.0"/>
<line x1="22.33" y1="187.90" x2="22.33" y2="191.70" stroke="#111" stroke-width="1.0"/>
<text class="tick" x="22.63" y="199.30">-1.4</text>
<line x1="26.79" y1="187.90" x2="26.79" y2="190.00" stroke="#111" stroke-width="1.0"/>
<line x1="31.25" y1="187.90" x2="31.25" y2="190.00" stroke="#111" stroke-width="1.0"/>
<line x1="35.72" y1="187.90" x2="35.72" y2="190.00" stroke="#111" stroke-width="1.0"/>
<line x1="40.18" y1="187.90" x2="40.18" y2="190.00" stroke="#111" stroke-width="1.0"/>
<line x1="44.64" y1="187.90" x2="44.64" y2="191.70" stroke="#111" stroke-width="1.0"/>
<text class="tick" x="44.94" y="199.30">-1.2</text>
<line x1="49.10" y1="187.90" x2="49.10" y2="190.00" stroke="#111" stroke-width="1.0"/>
<line x1="53.56" y1="187.90" x2="53.56" y2="190.00" stroke="#111" stroke-width="1.0"/>
<line x1="58.03" y1="187.90" x2="58.03" y2="190.00" stroke="#111" stroke-width="1.0"/>
<line x1="62.49" y1="187.90" x2="62.49" y2="190.00" stroke="#111" stroke-width="1.0"/>
<line x1="66.95" y1="187.90" x2="66.95" y2="191.70" stroke="#111" stroke-width="1.0"/>
<text class="tick" x="67.25" y="199.30">-1.0</text>
<line x1="71.41" y1="187.90" x2="71.41" y2="190.00" stroke="#111" stroke-width="1.0"/>
<line x1="75.87" y1="187.90" x2="75.87" y2="190.00" stroke="#111" stroke-width="1.0"/>
<line x1="80.34" y1="187.90" x2="80.34" y2="190.00" stroke="#111" stroke-width="1.0"/>
<line x1="84.80" y1="187.90" x2="84.80" y2="190.00" stroke="#111" stroke-width="1.0"/>
<line x1="89.26" y1="187.90" x2="89.26" y2="191.70" stroke="#111" stroke-width="1.0"/>
<text class="tick" x="89.56" y="199.30">-0.8</text>
<line x1="93.72" y1="187.90" x2="93.72" y2="190.00" stroke="#111" stroke-width="1.0"/>
<line x1="98.18" y1="187.90" x2="98.18" y2="190.00" stroke="#111" stroke-width="1.0"/>
<line x1="102.65" y1="187.90" x2="102.65" y2="190.00" stroke="#111" stroke-width="1.0"/>
<line x1="107.11" y1="187.90" x2="107.11" y2="190.00" stroke="#111" stroke-width="1.0"/>
<line x1="111.57" y1="187.90" x2="111.57" y2="191.70" stroke="#111" stroke-width="1.0"/>
<text class="tick" x="111.87" y="199.30">-0.6</text>
<line x1="116.03" y1="187.90" x2="116.03" y2="190.00" stroke="#111" stroke-width="1.0"/>
<line x1="120.49" y1="187.90" x2="120.49" y2="190.00" stroke="#111" stroke-width="1.0"/>
<line x1="124.96" y1="187.90" x2="124.96" y2="190.00" stroke="#111" stroke-width="1.0"/>
<line x1="129.42" y1="187.90" x2="129.42" y2="190.00" stroke="#111" stroke-width="1.0"/>
<line x1="133.88" y1="187.90" x2="133.88" y2="191.70" stroke="#111" stroke-width="1.0"/>
<text class="tick" x="134.18" y="199.30">-0.4</text>
<line x1="138.34" y1="187.90" x2="138.34" y2="190.00" stroke="#111" stroke-width="1.0"/>
<line x1="142.80" y1="187.90" x2="142.80" y2="190.00" stroke="#111" stroke-width="1.0"/>
<line x1="147.27" y1="187.90" x2="147.27" y2="190.00" stroke="#111" stroke-width="1.0"/>
<line x1="151.73" y1="187.90" x2="151.73" y2="190.00" stroke="#111" stroke-width="1.0"/>
<line x1="156.19" y1="187.90" x2="156.19" y2="191.70" stroke="#111" stroke-width="1.0"/>
<text class="tick" x="156.49" y="199.30">-0.2</text>
<line x1="160.65" y1="187.90" x2="160.65" y2="190.00" stroke="#111" stroke-width="1.0"/>
<line x1="165.11" y1="187.90" x2="165.11" y2="190.00" stroke="#111" stroke-width="1.0"/>
<line x1="169.58" y1="187.90" x2="169.58" y2="190.00" stroke="#111" stroke-width="1.0"/>
<line x1="174.04" y1="187.90" x2="174.04" y2="190.00" stroke="#111" stroke-width="1.0"/>
<line x1="178.50" y1="187.90" x2="178.50" y2="191.70" stroke="#111" stroke-width="1.0"/>
<text class="tick" x="178.80" y="199.30">0.0</text>
<line x1="182.96" y1="187.90" x2="182.96" y2="190.00" stroke="#111" stroke-width="1.0"/>
<line x1="187.42" y1="187.90" x2="187.42" y2="190.00" stroke="#111" stroke-width="1.0"/>
<line x1="191.89" y1="187.90" x2="191.89" y2="190.00" stroke="#111" stroke-width="1.0"/>
<line x1="196.35" y1="187.90" x2="196.35" y2="190.00" stroke="#111" stroke-width="1.0"/>
<line x1="200.81" y1="187.90" x2="200.81" y2="191.70" stroke="#111" stroke-width="1.0"/>
<text class="tick" x="201.11" y="199.30">0.2</text>
<line x1="205.27" y1="187.90" x2="205.27" y2="190.00" stroke="#111" stroke-width="1.0"/>
<line x1="209.73" y1="187.90" x2="209.73" y2="190.00" stroke="#111" stroke-width="1.0"/>
<line x1="214.20" y1="187.90" x2="214.20" y2="190.00" stroke="#111" stroke-width="1.0"/>
<line x1="218.66" y1="187.90" x2="218.66" y2="190.00" stroke="#111" stroke-width="1.0"/>
<line x1="223.12" y1="187.90" x2="223.12" y2="191.70" stroke="#111" stroke-width="1.0"/>
<text class="tick" x="223.42" y="199.30">0.4</text>
<line x1="227.58" y1="187.90" x2="227.58" y2="190.00" stroke="#111" stroke-width="1.0"/>
<line x1="232.04" y1="187.90" x2="232.04" y2="190.00" stroke="#111" stroke-width="1.0"/>
<line x1="236.51" y1="187.90" x2="236.51" y2="190.00" stroke="#111" stroke-width="1.0"/>
<line x1="240.97" y1="187.90" x2="240.97" y2="190.00" stroke="#111" stroke-width="1.0"/>
<line x1="245.43" y1="187.90" x2="245.43" y2="191.70" stroke="#111" stroke-width="1.0"/>
<text class="tick" x="245.73" y="199.30">0.6</text>
<line x1="249.89" y1="187.90" x2="249.89" y2="190.00" stroke="#111" stroke-width="1.0"/>
<text class="lab" x="11.00" y="155.10">N</text>
<text class="lab" x="11.00" y="164.90">G</text>
<text class="lab" x="12.00" y="174.80">L</text>
<text class="lab" x="10.30" y="184.50">Z</text>
<text class="letter" style="font-size:8px" x="0.40" y="156.00" textLength="3.5" lengthAdjust="spacingAndGlyphs">E</text>
<text class="title" x="126.00" y="208.80">JUNV</text>
</g>
<g>
<line x1="284.7" y1="158.35" x2="519.0" y2="158.35" stroke="#f6f6f6" stroke-width="0.6"/>
<line x1="284.7" y1="168.20" x2="519.0" y2="168.20" stroke="#f6f6f6" stroke-width="0.6"/>
<line x1="284.7" y1="178.05" x2="519.0" y2="178.05" stroke="#f6f6f6" stroke-width="0.6"/>
<rect x="320.90" y="149.93" width="124.50" height="3.80" rx="0.25" fill="#a5dca6" stroke="#436045" stroke-width="1.0"/>
<rect x="445.40" y="153.73" width="60.20" height="3.50" rx="0.25" fill="#f7d7a7" stroke="#6e5c42" stroke-width="1.0"/>
<rect x="360.70" y="159.78" width="84.70" height="3.80" rx="0.25" fill="#a5dca6" stroke="#436045" stroke-width="1.0"/>
<rect x="445.40" y="163.58" width="40.30" height="3.50" rx="0.25" fill="#f7d7a7" stroke="#6e5c42" stroke-width="1.0"/>
<rect x="308.30" y="169.62" width="137.10" height="3.80" rx="0.25" fill="#a5dca6" stroke="#436045" stroke-width="1.0"/>
<rect x="445.40" y="173.43" width="51.20" height="3.50" rx="0.25" fill="#f7d7a7" stroke="#6e5c42" stroke-width="1.0"/>
<rect x="388.40" y="179.48" width="57.00" height="3.80" rx="0.25" fill="#a5dca6" stroke="#436045" stroke-width="1.0"/>
<path d="M519.00 183.28H445.40V186.78H519.00" fill="#f7d7a7" stroke="#6e5c42" stroke-width="1.0"/>
<line x1="445.40" y1="148.50" x2="445.40" y2="187.90" stroke="#262626" stroke-width="0.8"/>
<line x1="444.00" y1="148.50" x2="447.40" y2="148.50" stroke="#1a1a1a" stroke-width="0.95"/>
<line x1="444.40" y1="158.35" x2="447.40" y2="158.35" stroke="#1a1a1a" stroke-width="0.95"/>
<line x1="444.40" y1="168.20" x2="447.40" y2="168.20" stroke="#1a1a1a" stroke-width="0.95"/>
<line x1="444.40" y1="178.05" x2="447.40" y2="178.05" stroke="#1a1a1a" stroke-width="0.95"/>
<line x1="284.70" y1="187.90" x2="519.00" y2="187.90" stroke="#1a1a1a" stroke-width="0.95"/>
<line x1="284.77" y1="187.90" x2="284.77" y2="190.00" stroke="#111" stroke-width="1.0"/>
<line x1="289.23" y1="187.90" x2="289.23" y2="191.70" stroke="#111" stroke-width="1.0"/>
<text class="tick" x="289.53" y="199.30">-1.4</text>
<line x1="293.69" y1="187.90" x2="293.69" y2="190.00" stroke="#111" stroke-width="1.0"/>
<line x1="298.15" y1="187.90" x2="298.15" y2="190.00" stroke="#111" stroke-width="1.0"/>
<line x1="302.62" y1="187.90" x2="302.62" y2="190.00" stroke="#111" stroke-width="1.0"/>
<line x1="307.08" y1="187.90" x2="307.08" y2="190.00" stroke="#111" stroke-width="1.0"/>
<line x1="311.54" y1="187.90" x2="311.54" y2="191.70" stroke="#111" stroke-width="1.0"/>
<text class="tick" x="311.84" y="199.30">-1.2</text>
<line x1="316.00" y1="187.90" x2="316.00" y2="190.00" stroke="#111" stroke-width="1.0"/>
<line x1="320.46" y1="187.90" x2="320.46" y2="190.00" stroke="#111" stroke-width="1.0"/>
<line x1="324.93" y1="187.90" x2="324.93" y2="190.00" stroke="#111" stroke-width="1.0"/>
<line x1="329.39" y1="187.90" x2="329.39" y2="190.00" stroke="#111" stroke-width="1.0"/>
<line x1="333.85" y1="187.90" x2="333.85" y2="191.70" stroke="#111" stroke-width="1.0"/>
<text class="tick" x="334.15" y="199.30">-1.0</text>
<line x1="338.31" y1="187.90" x2="338.31" y2="190.00" stroke="#111" stroke-width="1.0"/>
<line x1="342.77" y1="187.90" x2="342.77" y2="190.00" stroke="#111" stroke-width="1.0"/>
<line x1="347.24" y1="187.90" x2="347.24" y2="190.00" stroke="#111" stroke-width="1.0"/>
<line x1="351.70" y1="187.90" x2="351.70" y2="190.00" stroke="#111" stroke-width="1.0"/>
<line x1="356.16" y1="187.90" x2="356.16" y2="191.70" stroke="#111" stroke-width="1.0"/>
<text class="tick" x="356.46" y="199.30">-0.8</text>
<line x1="360.62" y1="187.90" x2="360.62" y2="190.00" stroke="#111" stroke-width="1.0"/>
<line x1="365.08" y1="187.90" x2="365.08" y2="190.00" stroke="#111" stroke-width="1.0"/>
<line x1="369.55" y1="187.90" x2="369.55" y2="190.00" stroke="#111" stroke-width="1.0"/>
<line x1="374.01" y1="187.90" x2="374.01" y2="190.00" stroke="#111" stroke-width="1.0"/>
<line x1="378.47" y1="187.90" x2="378.47" y2="191.70" stroke="#111" stroke-width="1.0"/>
<text class="tick" x="378.77" y="199.30">-0.6</text>
<line x1="382.93" y1="187.90" x2="382.93" y2="190.00" stroke="#111" stroke-width="1.0"/>
<line x1="387.39" y1="187.90" x2="387.39" y2="190.00" stroke="#111" stroke-width="1.0"/>
<line x1="391.86" y1="187.90" x2="391.86" y2="190.00" stroke="#111" stroke-width="1.0"/>
<line x1="396.32" y1="187.90" x2="396.32" y2="190.00" stroke="#111" stroke-width="1.0"/>
<line x1="400.78" y1="187.90" x2="400.78" y2="191.70" stroke="#111" stroke-width="1.0"/>
<text class="tick" x="401.08" y="199.30">-0.4</text>
<line x1="405.24" y1="187.90" x2="405.24" y2="190.00" stroke="#111" stroke-width="1.0"/>
<line x1="409.70" y1="187.90" x2="409.70" y2="190.00" stroke="#111" stroke-width="1.0"/>
<line x1="414.17" y1="187.90" x2="414.17" y2="190.00" stroke="#111" stroke-width="1.0"/>
<line x1="418.63" y1="187.90" x2="418.63" y2="190.00" stroke="#111" stroke-width="1.0"/>
<line x1="423.09" y1="187.90" x2="423.09" y2="191.70" stroke="#111" stroke-width="1.0"/>
<text class="tick" x="423.39" y="199.30">-0.2</text>
<line x1="427.55" y1="187.90" x2="427.55" y2="190.00" stroke="#111" stroke-width="1.0"/>
<line x1="432.01" y1="187.90" x2="432.01" y2="190.00" stroke="#111" stroke-width="1.0"/>
<line x1="436.48" y1="187.90" x2="436.48" y2="190.00" stroke="#111" stroke-width="1.0"/>
<line x1="440.94" y1="187.90" x2="440.94" y2="190.00" stroke="#111" stroke-width="1.0"/>
<line x1="445.40" y1="187.90" x2="445.40" y2="191.70" stroke="#111" stroke-width="1.0"/>
<text class="tick" x="445.70" y="199.30">0.0</text>
<line x1="449.86" y1="187.90" x2="449.86" y2="190.00" stroke="#111" stroke-width="1.0"/>
<line x1="454.32" y1="187.90" x2="454.32" y2="190.00" stroke="#111" stroke-width="1.0"/>
<line x1="458.79" y1="187.90" x2="458.79" y2="190.00" stroke="#111" stroke-width="1.0"/>
<line x1="463.25" y1="187.90" x2="463.25" y2="190.00" stroke="#111" stroke-width="1.0"/>
<line x1="467.71" y1="187.90" x2="467.71" y2="191.70" stroke="#111" stroke-width="1.0"/>
<text class="tick" x="468.01" y="199.30">0.2</text>
<line x1="472.17" y1="187.90" x2="472.17" y2="190.00" stroke="#111" stroke-width="1.0"/>
<line x1="476.63" y1="187.90" x2="476.63" y2="190.00" stroke="#111" stroke-width="1.0"/>
<line x1="481.10" y1="187.90" x2="481.10" y2="190.00" stroke="#111" stroke-width="1.0"/>
<line x1="485.56" y1="187.90" x2="485.56" y2="190.00" stroke="#111" stroke-width="1.0"/>
<line x1="490.02" y1="187.90" x2="490.02" y2="191.70" stroke="#111" stroke-width="1.0"/>
<text class="tick" x="490.32" y="199.30">0.4</text>
<line x1="494.48" y1="187.90" x2="494.48" y2="190.00" stroke="#111" stroke-width="1.0"/>
<line x1="498.94" y1="187.90" x2="498.94" y2="190.00" stroke="#111" stroke-width="1.0"/>
<line x1="503.41" y1="187.90" x2="503.41" y2="190.00" stroke="#111" stroke-width="1.0"/>
<line x1="507.87" y1="187.90" x2="507.87" y2="190.00" stroke="#111" stroke-width="1.0"/>
<line x1="512.33" y1="187.90" x2="512.33" y2="191.70" stroke="#111" stroke-width="1.0"/>
<text class="tick" x="512.63" y="199.30">0.6</text>
<line x1="516.79" y1="187.90" x2="516.79" y2="190.00" stroke="#111" stroke-width="1.0"/>
<text class="lab" x="278.00" y="155.10">N</text>
<text class="lab" x="278.00" y="164.90">G</text>
<text class="lab" x="279.00" y="174.80">L</text>
<text class="lab" x="277.30" y="184.50">Z</text>
<text class="letter" style="font-size:8px" x="267.00" y="156.00" textLength="3.9" lengthAdjust="spacingAndGlyphs">F</text>
<text class="title" x="392.00" y="208.90">MACV</text>
</g>
<g>
<line x1="154.5" y1="231.40" x2="389.0" y2="231.40" stroke="#f6f6f6" stroke-width="0.6"/>
<line x1="154.5" y1="241.30" x2="389.0" y2="241.30" stroke="#f6f6f6" stroke-width="0.6"/>
<line x1="154.5" y1="251.20" x2="389.0" y2="251.20" stroke="#f6f6f6" stroke-width="0.6"/>
<rect x="170.70" y="222.80" width="144.60" height="3.80" rx="0.25" fill="#a5dca6" stroke="#436045" stroke-width="1.0"/>
<rect x="315.30" y="226.60" width="60.40" height="3.50" rx="0.25" fill="#f7d7a7" stroke="#6e5c42" stroke-width="1.0"/>
<rect x="204.20" y="232.55" width="111.10" height="3.80" rx="0.25" fill="#a5dca6" stroke="#436045" stroke-width="1.0"/>
<rect x="315.30" y="236.35" width="43.60" height="3.50" rx="0.25" fill="#f7d7a7" stroke="#6e5c42" stroke-width="1.0"/>
<rect x="199.70" y="242.30" width="115.60" height="3.80" rx="0.25" fill="#a5dca6" stroke="#436045" stroke-width="1.0"/>
<rect x="315.30" y="246.10" width="51.50" height="3.50" rx="0.25" fill="#f7d7a7" stroke="#6e5c42" stroke-width="1.0"/>
<rect x="313.30" y="251.45" width="2.00" height="3.80" rx="0.25" fill="#a5dca6" stroke="#436045" stroke-width="1.0"/>
<path d="M389.00 255.85H315.30V259.35H389.00" fill="#f7d7a7" stroke="#6e5c42" stroke-width="1.0"/>
<line x1="315.30" y1="221.50" x2="315.30" y2="261.10" stroke="#262626" stroke-width="0.8"/>
<line x1="313.90" y1="221.50" x2="317.30" y2="221.50" stroke="#1a1a1a" stroke-width="0.95"/>
<line x1="314.30" y1="231.40" x2="317.30" y2="231.40" stroke="#1a1a1a" stroke-width="0.95"/>
<line x1="314.30" y1="241.30" x2="317.30" y2="241.30" stroke="#1a1a1a" stroke-width="0.95"/>
<line x1="314.30" y1="251.20" x2="317.30" y2="251.20" stroke="#1a1a1a" stroke-width="0.95"/>
<line x1="154.50" y1="261.10" x2="389.00" y2="261.10" stroke="#1a1a1a" stroke-width="0.95"/>
<line x1="154.67" y1="261.10" x2="154.67" y2="263.20" stroke="#111" stroke-width="1.0"/>
<line x1="159.13" y1="261.10" x2="159.13" y2="264.90" stroke="#111" stroke-width="1.0"/>
<text class="tick" x="159.43" y="271.85">-1.4</text>
<line x1="163.59" y1="261.10" x2="163.59" y2="263.20" stroke="#111" stroke-width="1.0"/>
<line x1="168.05" y1="261.10" x2="168.05" y2="263.20" stroke="#111" stroke-width="1.0"/>
<line x1="172.52" y1="261.10" x2="172.52" y2="263.20" stroke="#111" stroke-width="1.0"/>
<line x1="176.98" y1="261.10" x2="176.98" y2="263.20" stroke="#111" stroke-width="1.0"/>
<line x1="181.44" y1="261.10" x2="181.44" y2="264.90" stroke="#111" stroke-width="1.0"/>
<text class="tick" x="181.74" y="271.85">-1.2</text>
<line x1="185.90" y1="261.10" x2="185.90" y2="263.20" stroke="#111" stroke-width="1.0"/>
<line x1="190.36" y1="261.10" x2="190.36" y2="263.20" stroke="#111" stroke-width="1.0"/>
<line x1="194.83" y1="261.10" x2="194.83" y2="263.20" stroke="#111" stroke-width="1.0"/>
<line x1="199.29" y1="261.10" x2="199.29" y2="263.20" stroke="#111" stroke-width="1.0"/>
<line x1="203.75" y1="261.10" x2="203.75" y2="264.90" stroke="#111" stroke-width="1.0"/>
<text class="tick" x="204.05" y="271.85">-1.0</text>
<line x1="208.21" y1="261.10" x2="208.21" y2="263.20" stroke="#111" stroke-width="1.0"/>
<line x1="212.67" y1="261.10" x2="212.67" y2="263.20" stroke="#111" stroke-width="1.0"/>
<line x1="217.14" y1="261.10" x2="217.14" y2="263.20" stroke="#111" stroke-width="1.0"/>
<line x1="221.60" y1="261.10" x2="221.60" y2="263.20" stroke="#111" stroke-width="1.0"/>
<line x1="226.06" y1="261.10" x2="226.06" y2="264.90" stroke="#111" stroke-width="1.0"/>
<text class="tick" x="226.36" y="271.85">-0.8</text>
<line x1="230.52" y1="261.10" x2="230.52" y2="263.20" stroke="#111" stroke-width="1.0"/>
<line x1="234.98" y1="261.10" x2="234.98" y2="263.20" stroke="#111" stroke-width="1.0"/>
<line x1="239.45" y1="261.10" x2="239.45" y2="263.20" stroke="#111" stroke-width="1.0"/>
<line x1="243.91" y1="261.10" x2="243.91" y2="263.20" stroke="#111" stroke-width="1.0"/>
<line x1="248.37" y1="261.10" x2="248.37" y2="264.90" stroke="#111" stroke-width="1.0"/>
<text class="tick" x="248.67" y="271.85">-0.6</text>
<line x1="252.83" y1="261.10" x2="252.83" y2="263.20" stroke="#111" stroke-width="1.0"/>
<line x1="257.29" y1="261.10" x2="257.29" y2="263.20" stroke="#111" stroke-width="1.0"/>
<line x1="261.76" y1="261.10" x2="261.76" y2="263.20" stroke="#111" stroke-width="1.0"/>
<line x1="266.22" y1="261.10" x2="266.22" y2="263.20" stroke="#111" stroke-width="1.0"/>
<line x1="270.68" y1="261.10" x2="270.68" y2="264.90" stroke="#111" stroke-width="1.0"/>
<text class="tick" x="270.98" y="271.85">-0.4</text>
<line x1="275.14" y1="261.10" x2="275.14" y2="263.20" stroke="#111" stroke-width="1.0"/>
<line x1="279.60" y1="261.10" x2="279.60" y2="263.20" stroke="#111" stroke-width="1.0"/>
<line x1="284.07" y1="261.10" x2="284.07" y2="263.20" stroke="#111" stroke-width="1.0"/>
<line x1="288.53" y1="261.10" x2="288.53" y2="263.20" stroke="#111" stroke-width="1.0"/>
<line x1="292.99" y1="261.10" x2="292.99" y2="264.90" stroke="#111" stroke-width="1.0"/>
<text class="tick" x="293.29" y="271.85">-0.2</text>
<line x1="297.45" y1="261.10" x2="297.45" y2="263.20" stroke="#111" stroke-width="1.0"/>
<line x1="301.91" y1="261.10" x2="301.91" y2="263.20" stroke="#111" stroke-width="1.0"/>
<line x1="306.38" y1="261.10" x2="306.38" y2="263.20" stroke="#111" stroke-width="1.0"/>
<line x1="310.84" y1="261.10" x2="310.84" y2="263.20" stroke="#111" stroke-width="1.0"/>
<line x1="315.30" y1="261.10" x2="315.30" y2="264.90" stroke="#111" stroke-width="1.0"/>
<text class="tick" x="315.60" y="271.85">0.0</text>
<line x1="319.76" y1="261.10" x2="319.76" y2="263.20" stroke="#111" stroke-width="1.0"/>
<line x1="324.22" y1="261.10" x2="324.22" y2="263.20" stroke="#111" stroke-width="1.0"/>
<line x1="328.69" y1="261.10" x2="328.69" y2="263.20" stroke="#111" stroke-width="1.0"/>
<line x1="333.15" y1="261.10" x2="333.15" y2="263.20" stroke="#111" stroke-width="1.0"/>
<line x1="337.61" y1="261.10" x2="337.61" y2="264.90" stroke="#111" stroke-width="1.0"/>
<text class="tick" x="337.91" y="271.85">0.2</text>
<line x1="342.07" y1="261.10" x2="342.07" y2="263.20" stroke="#111" stroke-width="1.0"/>
<line x1="346.53" y1="261.10" x2="346.53" y2="263.20" stroke="#111" stroke-width="1.0"/>
<line x1="351.00" y1="261.10" x2="351.00" y2="263.20" stroke="#111" stroke-width="1.0"/>
<line x1="355.46" y1="261.10" x2="355.46" y2="263.20" stroke="#111" stroke-width="1.0"/>
<line x1="359.92" y1="261.10" x2="359.92" y2="264.90" stroke="#111" stroke-width="1.0"/>
<text class="tick" x="360.22" y="271.85">0.4</text>
<line x1="364.38" y1="261.10" x2="364.38" y2="263.20" stroke="#111" stroke-width="1.0"/>
<line x1="368.84" y1="261.10" x2="368.84" y2="263.20" stroke="#111" stroke-width="1.0"/>
<line x1="373.31" y1="261.10" x2="373.31" y2="263.20" stroke="#111" stroke-width="1.0"/>
<line x1="377.77" y1="261.10" x2="377.77" y2="263.20" stroke="#111" stroke-width="1.0"/>
<line x1="382.23" y1="261.10" x2="382.23" y2="264.90" stroke="#111" stroke-width="1.0"/>
<text class="tick" x="382.53" y="271.85">0.6</text>
<line x1="386.69" y1="261.10" x2="386.69" y2="263.20" stroke="#111" stroke-width="1.0"/>
<text class="lab" x="148.00" y="228.10">N</text>
<text class="lab" x="148.00" y="237.90">G</text>
<text class="lab" x="149.00" y="248.10">L</text>
<text class="lab" x="147.30" y="257.70">Z</text>
<text class="letter" style="font-size:7.3px" x="136.00" y="228.40" textLength="5.3" lengthAdjust="spacingAndGlyphs">G</text>
<text class="title" x="262.50" y="285.20">SABV</text>
</g>
<g>
<rect x="406.5" y="227.5" width="20.0" height="10.7" rx="1.8" ry="1.8" fill="#fcc492" stroke="#5b6874" stroke-width="1"/>
<rect x="406.5" y="244.8" width="21.0" height="11.4" rx="1.8" ry="1.8" fill="#93d499" stroke="#41706b" stroke-width="1"/>
<text class="leg" x="430.9" y="236.8">Antigenecity</text>
<text class="leg" x="430.9" y="254.0" style="font-size:10.7px">Alleregenecity</text>
</g>
</svg>
</body>
</html>
